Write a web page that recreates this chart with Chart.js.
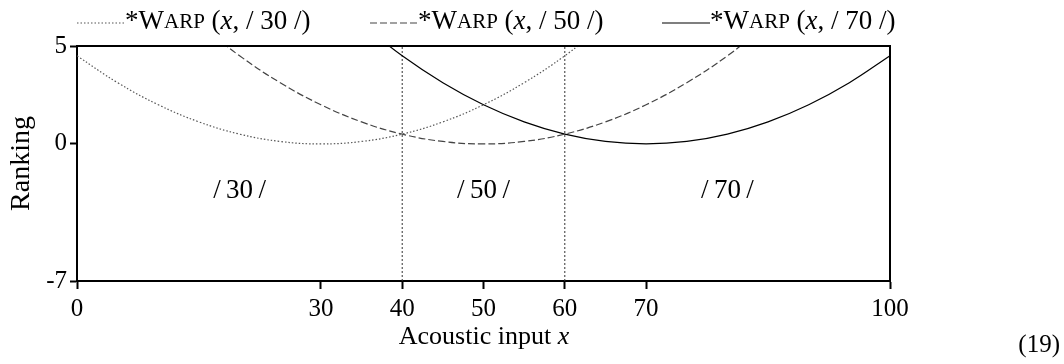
<!DOCTYPE html>
<html>
<head>
<meta charset="utf-8">
<script src="https://cdn.jsdelivr.net/npm/chart.js@4.4.1/dist/chart.umd.min.js"></script>
<style>
  html, body { margin: 0; padding: 0; background: #fff; }
  #wrap { width: 1064px; height: 364px; }
</style>
</head>
<body>
<div id="wrap"><canvas id="warpChart" width="1064" height="364"></canvas></div>
<script>
const SERIF = "'Liberation Serif', 'Times New Roman', serif";

// acoustic input sampled every 5 units
const xValues = [0, 5, 10, 15, 20, 25, 30, 35, 40, 45, 50, 55, 60, 65, 70, 75, 80, 85, 90, 95, 100];

// *WARP(x, /c/) rankings, one per category
const warp30 = [4.5, 3.125, 2, 1.125, 0.5, 0.125, 0, 0.125, 0.5, 1.125, 2, 3.125, 4.5, 6.125, null, null, null, null, null, null, null];
const warp50 = [null, null, null, 6.125, 4.5, 3.125, 2, 1.125, 0.5, 0.125, 0, 0.125, 0.5, 1.125, 2, 3.125, 4.5, 6.125, null, null, null];
const warp70 = [null, null, null, null, null, null, null, 6.125, 4.5, 3.125, 2, 1.125, 0.5, 0.125, 0, 0.125, 0.5, 1.125, 2, 3.125, 4.5];

const categories = ["/\u200930\u2009/", "/\u200950\u2009/", "/\u200970\u2009/"];
const legendCategories = ["/ 30 /", "/ 50 /", "/ 70 /"];
const categoryCenters = [20, 50, 80];
const boundaries = [40, 60];

const xTicks = [0, 30, 40, 50, 60, 70, 100];
const yTicks = [5, 0, -7];

function toPoints(values) {
  return xValues.map((x, i) => ({ x, y: values[i] }));
}

function curveDataset(label, values, color, dash) {
  return {
    label,
    data: toPoints(values),
    borderColor: color,
    borderWidth: 1.2,
    borderDash: dash,
    pointRadius: 0,
    tension: 0.4,
    spanGaps: false,
    fill: false
  };
}

function boundaryDataset(x) {
  return {
    label: "boundary " + x,
    data: [{ x, y: -7 }, { x, y: 5 }],
    borderColor: "#333",
    borderWidth: 1,
    borderDash: [2, 2],
    pointRadius: 0,
    isBoundary: true
  };
}

// text with mixed fonts: [text, font] parts drawn left to right
function drawRuns(ctx, runs, x, y) {
  runs.forEach(([text, font]) => {
    ctx.font = font;
    ctx.fillText(text, x, y);
    x += ctx.measureText(text).width;
  });
  return x;
}

function warpRuns(category) {
  return [
    ["*W", `27px ${SERIF}`],
    ["ARP", `21px ${SERIF}`],
    [" (", `27px ${SERIF}`],
    ["x", `italic 27px ${SERIF}`],
    [", " + category + ")", `27px ${SERIF}`]
  ];
}

const decorations = {
  id: "decorations",
  afterDatasetsDraw(chart) {
    const { ctx, chartArea, scales } = chart;
    ctx.save();

    // top and right edges of the frame
    ctx.strokeStyle = "#000";
    ctx.lineWidth = 2;
    ctx.beginPath();
    ctx.moveTo(chartArea.left, chartArea.top);
    ctx.lineTo(chartArea.right, chartArea.top);
    ctx.lineTo(chartArea.right, chartArea.bottom);
    ctx.stroke();

    ctx.fillStyle = "#000";
    ctx.textBaseline = "middle";

    // category names inside each region
    ctx.font = `27px ${SERIF}`;
    ctx.textAlign = "center";
    categories.forEach((name, i) => {
      ctx.fillText(name, scales.x.getPixelForValue(categoryCenters[i]), scales.y.getPixelForValue(-2.4));
    });

    // legend across the top
    ctx.textAlign = "left";
    const legendX = [77, 370, 662];
    const legendY = 22;
    chart.data.datasets.filter(d => !d.isBoundary).forEach((ds, i) => {
      const x0 = legendX[i];
      ctx.strokeStyle = ds.borderColor;
      ctx.lineWidth = ds.borderWidth;
      ctx.setLineDash(ds.borderDash || []);
      ctx.beginPath();
      ctx.moveTo(x0, legendY + 1);
      ctx.lineTo(x0 + 48, legendY + 1);
      ctx.stroke();
      ctx.setLineDash([]);
      drawRuns(ctx, warpRuns(legendCategories[i]), x0 + 48, legendY);
    });

    // x axis title
    const titleRuns = [["Acoustic input ", `26px ${SERIF}`], ["x", `italic 26px ${SERIF}`]];
    let w = 0;
    titleRuns.forEach(([t, f]) => { ctx.font = f; w += ctx.measureText(t).width; });
    drawRuns(ctx, titleRuns, 484 - w / 2, 337);

    // y axis title
    ctx.save();
    ctx.translate(22, (chartArea.top + chartArea.bottom) / 2);
    ctx.rotate(-Math.PI / 2);
    ctx.textAlign = "center";
    ctx.font = `28px ${SERIF}`;
    ctx.fillText("Ranking", 0, 0);
    ctx.restore();

    // example number
    ctx.textAlign = "right";
    ctx.font = `25px ${SERIF}`;
    ctx.fillText("(19)", 1060, 345);

    ctx.restore();
  }
};

Chart.defaults.font.family = SERIF;
Chart.defaults.font.size = 24;
Chart.defaults.color = "#000";

new Chart(document.getElementById("warpChart"), {
  type: "line",
  data: {
    datasets: [
      curveDataset("*WARP (x, /30/)", warp30, "#555", [1.5, 2]),
      curveDataset("*WARP (x, /50/)", warp50, "#444", [7, 3]),
      curveDataset("*WARP (x, /70/)", warp70, "#000", []),
      ...boundaries.map(boundaryDataset)
    ]
  },
  options: {
    responsive: false,
    animation: false,
    devicePixelRatio: 1,
    layout: { padding: { left: 0, top: 46, right: 174, bottom: 0 } },
    plugins: { legend: { display: false }, tooltip: { enabled: false } },
    scales: {
      x: {
        type: "linear",
        min: 0,
        max: 100,
        afterFit(scale) { scale.height = 83; },
        afterBuildTicks(scale) { scale.ticks = xTicks.map(value => ({ value })); },
        grid: { drawOnChartArea: false, drawTicks: true, tickLength: 8, tickColor: "#000", tickWidth: 2 },
        border: { display: true, color: "#000", width: 2 },
        ticks: { padding: 5, maxRotation: 0, autoSkip: false, font: { size: 25 } }
      },
      y: {
        min: -7,
        max: 5,
        afterFit(scale) { scale.width = 77; },
        afterBuildTicks(scale) { scale.ticks = yTicks.map(value => ({ value })); },
        grid: { drawOnChartArea: false, drawTicks: true, tickLength: 7, tickColor: "#000", tickWidth: 2 },
        border: { display: true, color: "#000", width: 2 },
        ticks: { padding: 3, autoSkip: false, font: { size: 25 } }
      }
    }
  },
  plugins: [decorations]
});
</script>
</body>
</html>
